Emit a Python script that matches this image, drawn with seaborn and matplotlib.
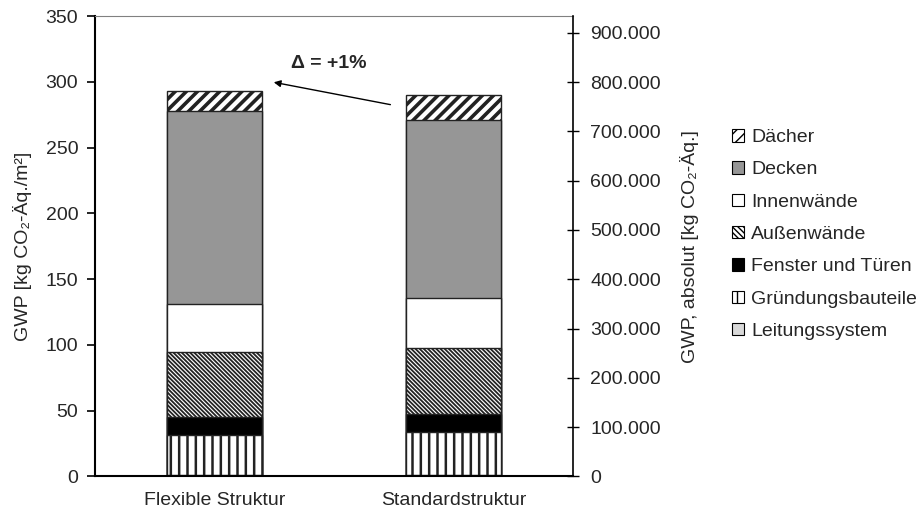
import numpy as np
import pandas as pd
import matplotlib
matplotlib.use("Agg")
import matplotlib.pyplot as plt
import matplotlib.patches as mpatches
from matplotlib.ticker import FuncFormatter
import seaborn as sns

categories = ["Flexible Struktur", "Standardstruktur"]
components = ["Leitungssystem", "Gründungsbauteile", "Fenster und Türen",
              "Außenwände", "Innenwände", "Decken", "Dächer"]
leitungssystem = [1.5, 1.5]
gruendung = [30.0, 32.4]
fenster = [13.4, 13.4]
aussenwaende = [49.5, 50.5]
innenwaende = [36.8, 37.8]
decken = [147.0, 135.2]
daecher = [15.2, 19.3]
right_factor = 2668  # m² used for absolute values
delta_text = "Δ = +1%"

values = [leitungssystem, gruendung, fenster, aussenwaende, innenwaende, decken, daecher]
styles = {
    "Leitungssystem":    dict(face="#d9d9d9", hatch=None, hlw=1.0),
    "Gründungsbauteile": dict(face="white", hatch="||", hlw=1.8),
    "Fenster und Türen": dict(face="black", hatch=None, hlw=1.0),
    "Außenwände":        dict(face="white", hatch="\\" * 8, hlw=1.3),
    "Innenwände":        dict(face="white", hatch=None, hlw=1.0),
    "Decken":            dict(face="#969696", hatch=None, hlw=1.0),
    "Dächer":            dict(face="white", hatch="///", hlw=2.6),
}

sns.set_theme(style="white")
plt.rcParams["font.family"] = ["Liberation Sans", "DejaVu Sans"]
plt.rcParams["hatch.color"] = "black"
FS = 14

df = pd.DataFrame({c: v for c, v in zip(components, values)}, index=categories)
cum = df.cumsum(axis=1)

fig = plt.figure(figsize=(9.22, 5.2), dpi=100)
ax = fig.add_axes([0.103, 0.0837, 0.5185, 0.8853])

# draw cumulative totals from top component down, so lower ones overlay
for comp in reversed(components):
    st = styles[comp]
    plt.rcParams["hatch.linewidth"] = st["hlw"]
    sns.barplot(x=categories, y=cum[comp].values, ax=ax, color=st["face"],
                width=0.4, edgecolor="#222222", linewidth=1.0, saturation=1)
    for p in ax.containers[-1]:
        p.set_facecolor(st["face"])
        if st["hatch"]:
            p.set_hatch(st["hatch"])
            if hasattr(p, "set_hatch_linewidth"):
                p.set_hatch_linewidth(st["hlw"])

ax.set_xlim(-0.5, 1.5)
ax.set_ylim(0, 350)
ax.set_yticks(np.arange(0, 351, 50))
ax.set_xticks([0, 1])
ax.set_xticklabels(categories, fontsize=FS)
ax.set_xticks([-0.5, 0.5, 1.5], minor=True)
ax.tick_params(axis="x", which="major", length=0, pad=11)
ax.tick_params(axis="x", which="minor", length=6, width=1.2, color="black", direction="out")
ax.tick_params(axis="y", which="major", length=6, width=1.2, color="black", direction="out",
               labelsize=FS, left=True, pad=6)
ax.set_xlabel("")
ax.set_ylabel("GWP [kg CO₂-Äq./m²]", fontsize=FS, labelpad=10)
for s in ["left", "bottom"]:
    ax.spines[s].set_color("black")
    ax.spines[s].set_linewidth(1.5)
ax.spines["top"].set_color("#808080")
ax.spines["top"].set_linewidth(0.8)
ax.spines["right"].set_visible(False)

ax2 = ax.twinx()
ax2.set_ylim(0, 350 * right_factor)
ax2.set_yticks(np.arange(0, 900001, 100000))
ax2.yaxis.set_major_formatter(FuncFormatter(lambda v, p: f"{int(v):,}".replace(",", ".")))
ax2.tick_params(axis="y", which="major", length=8.6, width=1.0, color="black",
                direction="inout", labelsize=FS, right=True, pad=8)
ax2.set_ylabel("GWP, absolut [kg CO₂-Äq.]", fontsize=FS, labelpad=14)
for s in ["left", "bottom", "top"]:
    ax2.spines[s].set_visible(False)
ax2.spines["right"].set_color("black")
ax2.spines["right"].set_linewidth(1.2)
ax2.grid(False)
ax.grid(False)

ax.annotate("", xy=(0.248, 299.7), xytext=(0.736, 282.7),
            arrowprops=dict(arrowstyle="-|>", color="black", lw=1.0,
                            mutation_scale=10, shrinkA=0, shrinkB=0))
ax.text(0.477, 314, delta_text, fontsize=FS, fontweight="bold", ha="center", va="center")

handles = []
for comp in reversed(components):
    st = styles[comp]
    plt.rcParams["hatch.linewidth"] = min(st["hlw"], 1.2)
    hatch = st["hatch"]
    if comp == "Dächer":
        hatch = "///"
    elif comp == "Außenwände":
        hatch = "\\" * 6
    h = mpatches.Patch(facecolor=st["face"], edgecolor="black", linewidth=0.8, hatch=hatch)
    handles.append(h)
fig.legend(handles, list(reversed(components)), loc="upper left",
           bbox_to_anchor=(0.794, 0.752), frameon=False, fontsize=FS,
           handlelength=0.62, handleheight=0.62, handletextpad=0.36,
           labelspacing=0.78, borderpad=0, borderaxespad=0)

fig.savefig("out.png", dpi=100)
